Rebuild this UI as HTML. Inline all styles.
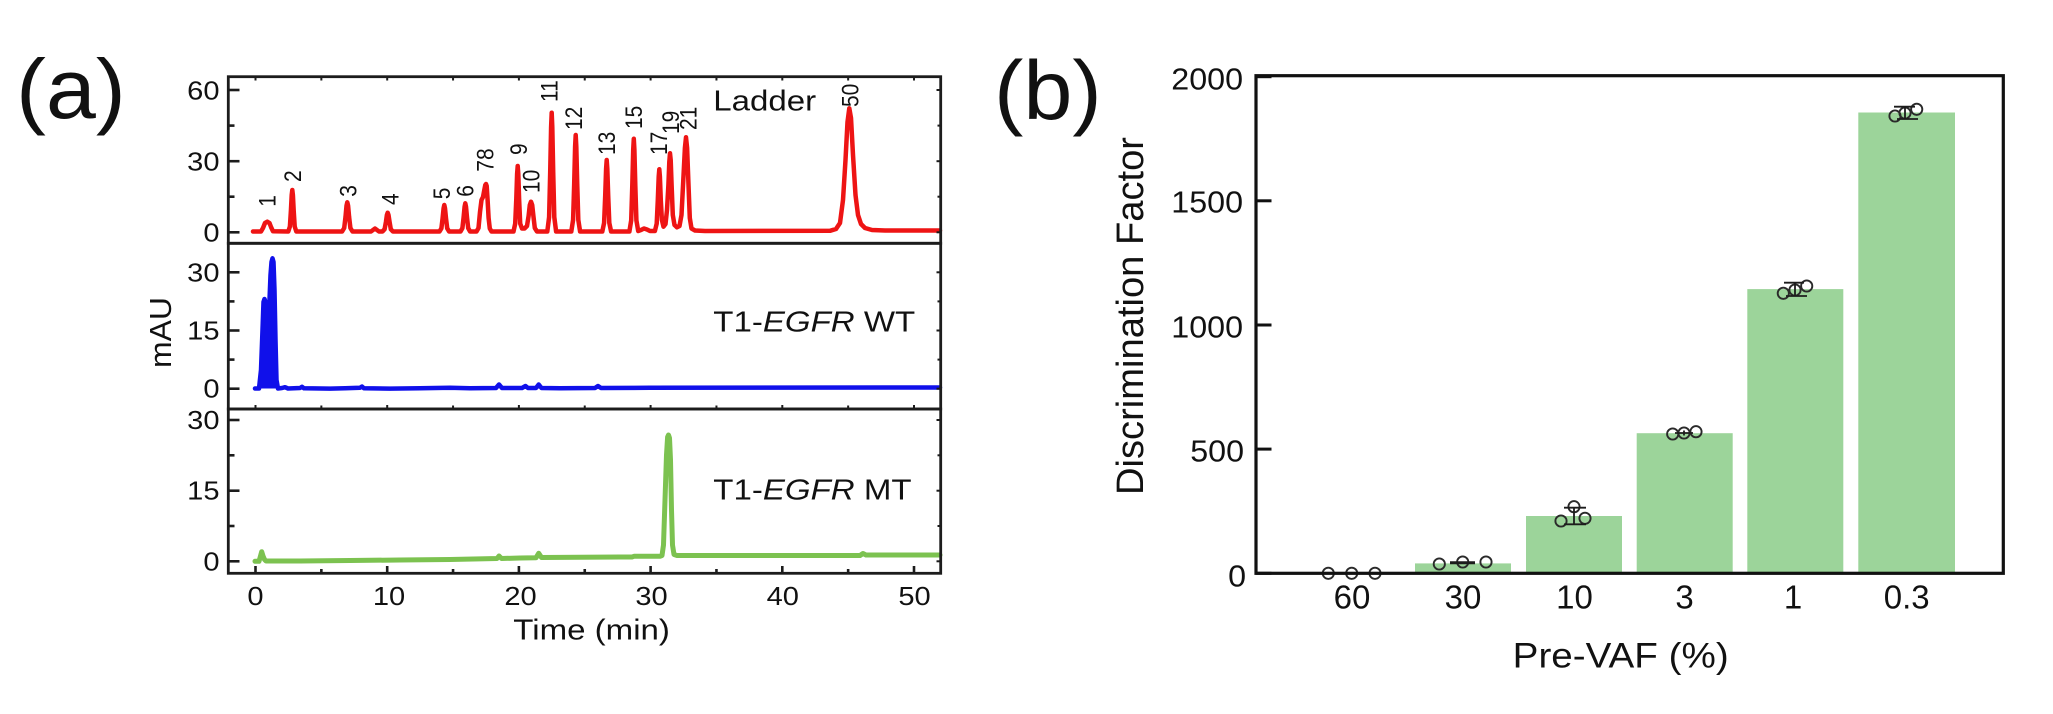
<!DOCTYPE html>
<html><head><meta charset="utf-8">
<style>
html,body{margin:0;padding:0;background:#fff;}
svg{display:block;}
text{font-family:"Liberation Sans",Arial,Helvetica,sans-serif;fill:#111;}
</style></head>
<body>
<svg width="2053" height="714" viewBox="0 0 2053 714" xmlns="http://www.w3.org/2000/svg">
<rect x="0" y="0" width="2053" height="714" fill="#fff"/>

<!-- ================= Panel (a) ================= -->
<text transform="translate(16,118) scale(1.07,1)" font-size="84">(a)</text>

<!-- Ladder (red) -->
<path fill="none" stroke="#ee1414" stroke-width="4.5" stroke-linejoin="round" stroke-linecap="round" d="
M253,231.5 L261,231.5 263,228 265,223 267.3,221.7 269.5,223 271,227 273,231.3 288.3,231.5
289.9,226.5 290.9,210.8 291.7,195 292.3,190 292.9,195 293.7,210.8 294.7,226.5 296.3,231.5
342.1,231.5 344.2,228 345.5,216.9 346.5,205.8 347.3,202.3 348.1,205.8 349.1,216.9 350.4,228 352.5,231.5
371,231.5 375,228.5 379,231.5
382.5,231.5 384.6,229.2 385.9,222.1 386.9,215 387.7,212.7 388.5,215 389.6,222.1 390.8,229.2 392.9,231.5
439.5,231.5 441.4,228.3 442.6,218.3 443.6,208.2 444.3,205 445,208.2 446,218.3 447.2,228.3 449.1,231.5
460.5,231.5 462.4,228.1 463.6,217.4 464.6,206.7 465.3,203.3 466,206.7 467,217.4 468.2,228.1 470.1,231.5
476.5,231.5 478.5,228 480,212 481.5,200 483,197 484.3,190 485.3,185 486,184 486.7,186 487.6,200 488.6,218 489.8,228.5 491.5,231.5
513.5,231.5 515.2,223.6 516.3,198.8 517.1,173.9 517.7,166 518.3,173.9 519.1,198.8 520.2,223.6 522,228.5
524.5,228.5 527,226 528.6,216 529.8,205 531,201.7 532.2,205 533.4,216 534.8,228 537,231.5
547.3,231.5 549.1,217.2 550.2,172.1 551.1,127 551.7,112.7 552.3,127 553.2,172.1 554.3,217.2 556.1,231.5
571.3,231.5 573.1,219.9 574.2,183.3 575.1,146.6 575.7,135 576.3,146.6 577.2,183.3 578.3,219.9 580.1,231.5
602.3,231.5 604.1,222.9 605.2,195.8 606.1,168.6 606.7,160 607.3,168.6 608.2,195.8 609.3,222.9 611.1,231.5
629.4,231.5 631.2,220.4 632.3,185.2 633.2,149.9 633.8,138.8 634.4,149.9 635.3,185.2 636.4,220.4 638.2,231
641,230 644,228.5 647,229.5 650,231
654.9,231 656.7,223.6 657.8,200.2 658.7,176.7 659.3,169.3 659.9,176.7 660.8,200.2 661.9,220 663.5,226.7
665.5,224 667,210 668.4,185 669.3,162 670,153.3 670.7,160 671.6,185 672.8,215 674.5,225 677,227.3
679.5,226 681.5,215 683.3,180 684.9,148 686,137.3 687.1,148 688.5,185 689.8,218 691.5,228.5 695,230.5 705,231
830,230.8 836,229 840,223 843,200 845.5,160 847.5,122 849.3,108.3 851,118 853,155 855.5,195 858,215 861,224 865,228 872,230 885,230.5 940,230.5"/>

<!-- WT (blue) -->
<polygon fill="#1010ea" points="259,388.5 261,370 262.5,330 263.5,302 264.5,299 265.5,302 266.5,318 267.5,323 268.5,320 269.5,300 270.5,275 271.5,262 272.5,258.3 273.5,262 274.5,290 275.5,340 276.5,380 278,388.5"/>
<path fill="none" stroke="#1010ea" stroke-width="4.5" stroke-linejoin="round" stroke-linecap="round" d="
M255,388.5 L259,388.5 261,370 262.5,330 263.5,302 264.5,299 265.5,302 266.5,318 267.5,323 268.5,320 269.5,300 270.5,275 271.5,262 272.5,258.3 273.5,262 274.5,290 275.5,340 276.5,380 278,388.5
282,388 285,387.2 288,388.5 300,388 302,386.8 304,388.3 330,388.6 345,388.2 360,387.8 362,386.5 364,388.3 390,388.6 420,388.2 450,387.8 470,388.3
496,388 499,384.5 502,388 522,388 525.5,386 528,388 536,388 538.7,384.5 541.5,388 560,388.2 595,388 598,386 601,388 650,387.8 940,387.5"/>

<!-- MT (green) -->
<path fill="none" stroke="#7cc250" stroke-width="5" stroke-linejoin="round" stroke-linecap="round" d="
M255,561.3 L259,561.3 260.5,556 261.7,551.7 263,556 264.5,559.5 266,561 300,561 350,560.5 400,560 450,559.5 497,558.5
499,556 501.5,558.5 520,558 536,557.8 538.7,553.3 541.5,557.5 580,557.3 620,557 632,557 634,556.3 660,556.3
662,555.5 663.5,545 665,500 666.5,455 667.6,437 668.5,435 669.5,438 670.5,460 671.5,510 672.5,545 674,554.5 677,555.5
700,555.5 860,555.5 863,553.5 866,555 940,555"/>

<!-- frames -->
<g fill="none" stroke="#1c1c1c" stroke-width="2.8">
<rect x="228.3" y="76.7" width="712.4" height="166.6"/>
<rect x="228.3" y="243.3" width="712.4" height="165.7"/>
<rect x="228.3" y="409" width="712.4" height="164.3"/>
</g>

<!-- left ticks -->
<g stroke="#1c1c1c" stroke-width="2.6">
<line x1="228.3" y1="90" x2="239.5" y2="90"/>
<line x1="228.3" y1="125.6" x2="234.5" y2="125.6"/>
<line x1="228.3" y1="161.2" x2="239.5" y2="161.2"/>
<line x1="228.3" y1="196.7" x2="234.5" y2="196.7"/>
<line x1="228.3" y1="232.3" x2="239.5" y2="232.3"/>
<line x1="228.3" y1="272.3" x2="239.5" y2="272.3"/>
<line x1="228.3" y1="301.4" x2="234.5" y2="301.4"/>
<line x1="228.3" y1="330.5" x2="239.5" y2="330.5"/>
<line x1="228.3" y1="359.6" x2="234.5" y2="359.6"/>
<line x1="228.3" y1="388.7" x2="239.5" y2="388.7"/>
<line x1="228.3" y1="420" x2="239.5" y2="420"/>
<line x1="228.3" y1="455.3" x2="234.5" y2="455.3"/>
<line x1="228.3" y1="490.7" x2="239.5" y2="490.7"/>
<line x1="228.3" y1="526" x2="234.5" y2="526"/>
<line x1="228.3" y1="561.3" x2="239.5" y2="561.3"/>
</g>
<!-- right small ticks -->
<g stroke="#1c1c1c" stroke-width="2">
<line x1="940.7" y1="90" x2="936.5" y2="90"/><line x1="940.7" y1="125.6" x2="937.5" y2="125.6"/>
<line x1="940.7" y1="161.2" x2="936.5" y2="161.2"/><line x1="940.7" y1="196.7" x2="937.5" y2="196.7"/>
<line x1="940.7" y1="232.3" x2="936.5" y2="232.3"/>
<line x1="940.7" y1="272.3" x2="936.5" y2="272.3"/><line x1="940.7" y1="301.4" x2="937.5" y2="301.4"/>
<line x1="940.7" y1="330.5" x2="936.5" y2="330.5"/><line x1="940.7" y1="359.6" x2="937.5" y2="359.6"/>
<line x1="940.7" y1="388.7" x2="936.5" y2="388.7"/>
<line x1="940.7" y1="420" x2="936.5" y2="420"/><line x1="940.7" y1="455.3" x2="937.5" y2="455.3"/>
<line x1="940.7" y1="490.7" x2="936.5" y2="490.7"/><line x1="940.7" y1="526" x2="937.5" y2="526"/>
<line x1="940.7" y1="561.3" x2="936.5" y2="561.3"/>
</g>
<!-- bottom ticks & top small ticks -->
<g stroke="#1c1c1c" stroke-width="2.6">
<line x1="255.5" y1="573.3" x2="255.5" y2="566"/>
<line x1="321.35" y1="573.3" x2="321.35" y2="569"/>
<line x1="387.2" y1="573.3" x2="387.2" y2="566"/>
<line x1="453.05" y1="573.3" x2="453.05" y2="569"/>
<line x1="518.9" y1="573.3" x2="518.9" y2="566"/>
<line x1="584.75" y1="573.3" x2="584.75" y2="569"/>
<line x1="650.6" y1="573.3" x2="650.6" y2="566"/>
<line x1="716.45" y1="573.3" x2="716.45" y2="569"/>
<line x1="782.3" y1="573.3" x2="782.3" y2="566"/>
<line x1="848.15" y1="573.3" x2="848.15" y2="569"/>
<line x1="914" y1="573.3" x2="914" y2="566"/>
</g>
<g stroke="#1c1c1c" stroke-width="2">
<line x1="255.5" y1="76.7" x2="255.5" y2="80.5"/><line x1="321.35" y1="76.7" x2="321.35" y2="80.5"/>
<line x1="387.2" y1="76.7" x2="387.2" y2="80.5"/><line x1="453.05" y1="76.7" x2="453.05" y2="80.5"/>
<line x1="518.9" y1="76.7" x2="518.9" y2="80.5"/><line x1="584.75" y1="76.7" x2="584.75" y2="80.5"/>
<line x1="650.6" y1="76.7" x2="650.6" y2="80.5"/><line x1="716.45" y1="76.7" x2="716.45" y2="80.5"/>
<line x1="782.3" y1="76.7" x2="782.3" y2="80.5"/><line x1="848.15" y1="76.7" x2="848.15" y2="80.5"/>
<line x1="914" y1="76.7" x2="914" y2="80.5"/>
<line x1="255.5" y1="409" x2="255.5" y2="405"/><line x1="321.35" y1="409" x2="321.35" y2="405.5"/>
<line x1="387.2" y1="409" x2="387.2" y2="405"/><line x1="453.05" y1="409" x2="453.05" y2="405.5"/>
<line x1="518.9" y1="409" x2="518.9" y2="405"/><line x1="584.75" y1="409" x2="584.75" y2="405.5"/>
<line x1="650.6" y1="409" x2="650.6" y2="405"/><line x1="716.45" y1="409" x2="716.45" y2="405.5"/>
<line x1="782.3" y1="409" x2="782.3" y2="405"/><line x1="848.15" y1="409" x2="848.15" y2="405.5"/>
<line x1="914" y1="409" x2="914" y2="405"/>
</g>

<!-- y tick labels (a) -->
<g font-size="25.5" text-anchor="end">
<text transform="translate(219.5,99.3) scale(1.14,1)">60</text>
<text transform="translate(219.5,170.5) scale(1.14,1)">30</text>
<text transform="translate(219.5,241.3) scale(1.14,1)">0</text>
<text transform="translate(219.5,281.3) scale(1.14,1)">30</text>
<text transform="translate(219.5,339.5) scale(1.14,1)">15</text>
<text transform="translate(219.5,397.7) scale(1.14,1)">0</text>
<text transform="translate(219.5,429.2) scale(1.14,1)">30</text>
<text transform="translate(219.5,499.7) scale(1.14,1)">15</text>
<text transform="translate(219.5,570.3) scale(1.14,1)">0</text>
</g>
<!-- x tick labels (a) -->
<g font-size="25.5" text-anchor="middle">
<text transform="translate(255.5,605) scale(1.14,1)">0</text>
<text transform="translate(389,605) scale(1.14,1)">10</text>
<text transform="translate(520.5,605) scale(1.14,1)">20</text>
<text transform="translate(651.5,605) scale(1.14,1)">30</text>
<text transform="translate(782.8,605) scale(1.14,1)">40</text>
<text transform="translate(914.5,605) scale(1.14,1)">50</text>
</g>
<text transform="translate(513.3,639.3) scale(1.14,1)" font-size="29">Time (min)</text>
<text transform="translate(171,368) rotate(-90)" font-size="31" textLength="71" lengthAdjust="spacingAndGlyphs">mAU</text>

<text transform="translate(713.3,110.7) scale(1.14,1)" font-size="29">Ladder</text>
<text transform="translate(713.3,331.7) scale(1.14,1)" font-size="29">T1-<tspan font-style="italic">EGFR</tspan> WT</text>
<text transform="translate(713.3,499.3) scale(1.14,1)" font-size="29">T1-<tspan font-style="italic">EGFR</tspan> MT</text>

<!-- peak labels -->
<g font-size="21">
<text transform="translate(275.5,206.7) scale(1.14,1) rotate(-90)">1</text>
<text transform="translate(300.8,182) scale(1.14,1) rotate(-90)">2</text>
<text transform="translate(356.5,196.7) scale(1.14,1) rotate(-90)">3</text>
<text transform="translate(398.5,205) scale(1.14,1) rotate(-90)">4</text>
<text transform="translate(450.2,199.3) scale(1.14,1) rotate(-90)">5</text>
<text transform="translate(473.5,196.7) scale(1.14,1) rotate(-90)">6</text>
<text transform="translate(493.5,171.7) scale(1.14,1) rotate(-90)">78</text>
<text transform="translate(526.8,155) scale(1.14,1) rotate(-90)">9</text>
<text transform="translate(539.5,193) scale(1.14,1) rotate(-90)">10</text>
<text transform="translate(557.5,102) scale(1.14,1) rotate(-90)">11</text>
<text transform="translate(581.8,130) scale(1.14,1) rotate(-90)">12</text>
<text transform="translate(615.2,155) scale(1.14,1) rotate(-90)">13</text>
<text transform="translate(641.8,129) scale(1.14,1) rotate(-90)">15</text>
<text transform="translate(667,155) scale(1.14,1) rotate(-90)">17</text>
<text transform="translate(679,134) scale(1.14,1) rotate(-90)">19</text>
<text transform="translate(696.5,130) scale(1.14,1) rotate(-90)">21</text>
<text transform="translate(858.5,107) scale(1.14,1) rotate(-90)">50</text>
</g>

<!-- ================= Panel (b) ================= -->
<text transform="translate(994,119) scale(1.05,1)" font-size="84">(b)</text>

<!-- bars -->
<g fill="#9cd49a">
<rect x="1415" y="563.4" width="96" height="10"/>
<rect x="1526" y="516" width="96" height="57.4"/>
<rect x="1636.7" y="433.2" width="96" height="140.2"/>
<rect x="1747.3" y="289.1" width="96" height="284.3"/>
<rect x="1858.3" y="112.5" width="96.7" height="460.9"/>
</g>

<!-- points & error bars -->
<g fill="none" stroke="#2a2a2a" stroke-width="1.9">
<circle cx="1328.3" cy="573.3" r="5.6"/><circle cx="1351.7" cy="573.3" r="5.6"/><circle cx="1375" cy="573.3" r="5.6"/>
<circle cx="1439.3" cy="564" r="5.6"/><circle cx="1462.7" cy="562" r="5.6"/><circle cx="1486" cy="562" r="5.6"/>
<circle cx="1561" cy="521" r="5.6"/><circle cx="1574" cy="506.7" r="5.6"/><circle cx="1585" cy="518.3" r="5.6"/>
<circle cx="1672.7" cy="434" r="5.6"/><circle cx="1684" cy="433" r="5.6"/><circle cx="1696" cy="431.7" r="5.6"/>
<circle cx="1783.3" cy="293.3" r="5.6"/><circle cx="1795" cy="290" r="5.6"/><circle cx="1806.7" cy="286" r="5.6"/>
<circle cx="1895" cy="116" r="5.6"/><circle cx="1905" cy="113" r="5.6"/><circle cx="1916.7" cy="109.3" r="5.6"/>
</g>
<g stroke="#1c1c1c" stroke-width="1.8">
<line x1="1450" y1="562.7" x2="1475" y2="562.7" stroke-width="3"/>
<line x1="1574" y1="507.7" x2="1574" y2="524.3"/>
<line x1="1564" y1="507.7" x2="1586" y2="507.7"/>
<line x1="1564" y1="524.3" x2="1586" y2="524.3"/>
<line x1="1675" y1="433" x2="1693" y2="433"/>
<line x1="1684" y1="430.5" x2="1684" y2="435.5"/>
<line x1="1795" y1="282.7" x2="1795" y2="296"/>
<line x1="1784" y1="282.7" x2="1804" y2="282.7"/>
<line x1="1786" y1="296" x2="1807" y2="296"/>
<line x1="1905" y1="106.7" x2="1905" y2="119"/>
<line x1="1894" y1="106.7" x2="1915" y2="106.7"/>
<line x1="1897" y1="119" x2="1918" y2="119"/>
</g>

<!-- axes (b) -->
<rect x="1256" y="75.7" width="747.3" height="497.6" fill="none" stroke="#111" stroke-width="3.2"/>
<g stroke="#111" stroke-width="3">
<line x1="1256" y1="573.3" x2="1271.5" y2="573.3"/>
<line x1="1256" y1="449.1" x2="1271.5" y2="449.1"/>
<line x1="1256" y1="325" x2="1271.5" y2="325"/>
<line x1="1256" y1="200.8" x2="1271.5" y2="200.8"/>
<line x1="1256" y1="76.7" x2="1271.5" y2="76.7"/>
</g>
<g font-size="31" text-anchor="end">
<text transform="translate(1243,89.5) scale(1.04,1)">2000</text>
<text transform="translate(1243,212.7) scale(1.04,1)">1500</text>
<text transform="translate(1243,337.5) scale(1.04,1)">1000</text>
<text transform="translate(1244,461.5) scale(1.04,1)">500</text>
<text transform="translate(1246,586.3) scale(1.04,1)">0</text>
</g>
<g font-size="33" text-anchor="middle">
<text x="1352" y="608.3">60</text>
<text x="1463" y="608.3">30</text>
<text x="1574.5" y="608.3">10</text>
<text x="1684.5" y="608.3">3</text>
<text x="1793" y="608.3">1</text>
<text x="1906.7" y="608.3">0.3</text>
</g>
<text x="1512.7" y="667.3" font-size="35" textLength="216" lengthAdjust="spacingAndGlyphs">Pre-VAF (%)</text>
<text transform="translate(1143,495) rotate(-90)" font-size="38" textLength="358" lengthAdjust="spacingAndGlyphs">Discrimination Factor</text>

</svg>
</body></html>
